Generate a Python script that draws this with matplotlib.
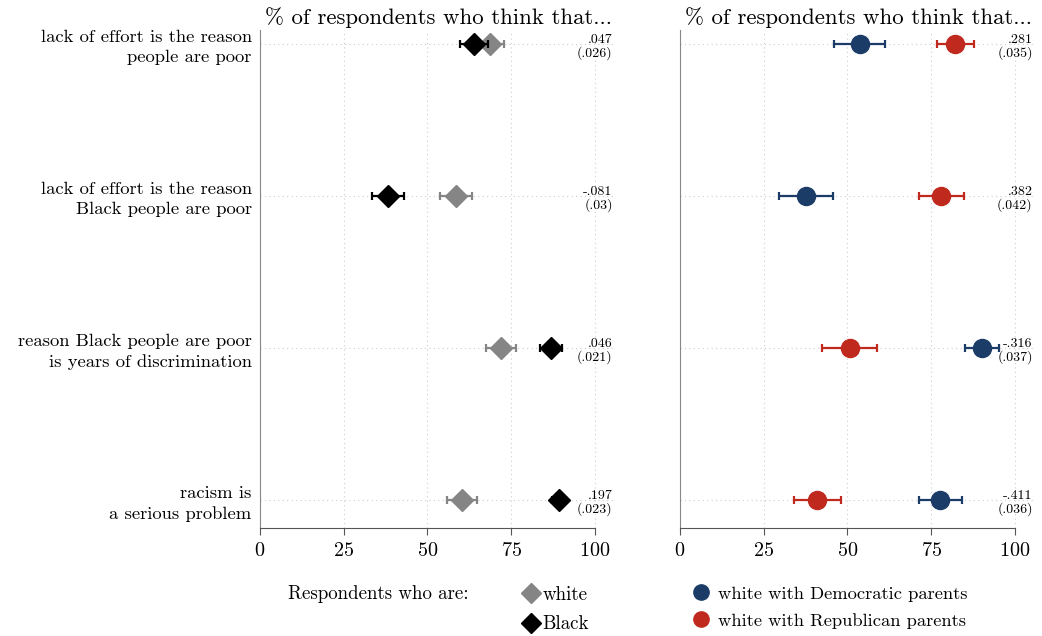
import matplotlib.pyplot as plt
from matplotlib.lines import Line2D

plt.rcParams["font.family"] = ["cmr10", "DejaVu Serif"]
plt.rcParams["axes.formatter.use_mathtext"] = True

questions = [
    "lack of effort is the reason\npeople are poor",
    "lack of effort is the reason\nBlack people are poor",
    "reason Black people are poor\nis years of discrimination",
    "racism is\na serious problem",
]

# left panel: white vs Black respondents (% agreeing, 95% CI half-width)
white_mean = [68.7, 58.5, 71.9, 60.3]
white_ci = [4.3, 4.7, 4.5, 4.5]
black_mean = [63.9, 38.2, 86.9, 89.3]
black_ci = [4.3, 4.8, 3.3, 2.2]
left_coef = [".047", "-.081", ".046", ".197"]
left_se = ["(.026)", "(.03)", "(.021)", "(.023)"]

# right panel: white respondents by parents' party
dem_mean = [53.7, 37.7, 90.2, 77.7]
dem_ci = [7.6, 8.1, 5.0, 6.4]
rep_mean = [82.2, 78.0, 50.7, 41.0]
rep_ci = [5.5, 6.7, 8.2, 7.1]
right_coef = [".281", ".382", "-.316", "-.411"]
right_se = ["(.035)", "(.042)", "(.037)", "(.036)"]

gray = "#858585"
navy = "#1b3c66"
red = "#c0291d"

fig = plt.figure(figsize=(10.42, 6.36), dpi=100)
W, H = 1042, 636
ax1 = fig.add_axes([260 / W, 1 - 528 / H, 355 / W, 498 / H])
ax2 = fig.add_axes([680 / W, 1 - 528 / H, 355 / W, 498 / H])

rows = list(range(len(questions)))


def style_panel(ax):
    ax.set_xlim(0, 106)
    ax.set_ylim(3.184, -0.092)
    ax.set_xticks([0, 25, 50, 75, 100])
    ax.set_yticks(rows)
    for s in ["top", "right"]:
        ax.spines[s].set_visible(False)
    ax.spines["bottom"].set_bounds(0, 100)
    ax.spines["bottom"].set_color("#555555")
    ax.spines["left"].set_color("#888888")
    ax.spines["left"].set_linewidth(0.8)
    ax.tick_params(axis="x", length=5, color="#555555", labelsize=14.5, pad=5)
    ax.tick_params(axis="y", length=0)
    for x in [0, 25, 50, 75, 100]:
        ax.axvline(x, color="#cccccc", lw=0.8, ls=(0, (1, 3)), zorder=0)
    for r in rows:
        ax.axhline(r, color="#cccccc", lw=0.8, ls=(0, (1, 3)), zorder=0)
    ax.set_title("% of respondents who think that...", loc="left", fontsize=16.4,
                 pad=4, x=0.015)


def annotate(ax, coefs, ses):
    for r, c, s in zip(rows, coefs, ses):
        ax.text(105.3, r - 0.025, c, ha="right", va="center", fontsize=10)
        ax.text(105.3, r + 0.06, s, ha="right", va="center", fontsize=10)


style_panel(ax1)
ax1.set_yticklabels(questions, fontsize=13.4, linespacing=1.35)
ax1.tick_params(axis="y", pad=6)
ax1.errorbar(white_mean, rows, xerr=white_ci, fmt="D", color=gray, ms=11,
             capsize=3, elinewidth=1.6, capthick=1.6, zorder=3)
ax1.errorbar(black_mean, rows, xerr=black_ci, fmt="D", color="black", ms=11,
             capsize=3, elinewidth=1.6, capthick=1.6, zorder=4)
annotate(ax1, left_coef, left_se)

style_panel(ax2)
ax2.set_yticklabels([])
ax2.errorbar(dem_mean, rows, xerr=dem_ci, fmt="o", color=navy, ms=13,
             capsize=3, elinewidth=1.6, capthick=1.6, zorder=3)
ax2.errorbar(rep_mean, rows, xerr=rep_ci, fmt="o", color=red, ms=13,
             capsize=3, elinewidth=1.6, capthick=1.6, zorder=3)
annotate(ax2, right_coef, right_se)

# legends below the panels
fig.text(288 / W, 1 - 594 / H, "Respondents who are:", fontsize=13.6, va="center")
h_left = [Line2D([], [], marker="D", color=gray, ls="none", ms=10),
          Line2D([], [], marker="D", color="black", ls="none", ms=10)]
fig.legend(h_left, ["white", "Black"], loc="upper left",
           bbox_to_anchor=(505 / W, 1 - 569 / H), frameon=False, fontsize=13.6,
           handlelength=1.0, handletextpad=0.1, labelspacing=0.6)
h_right = [Line2D([], [], marker="o", color=navy, ls="none", ms=11),
           Line2D([], [], marker="o", color=red, ls="none", ms=11)]
fig.legend(h_right, ["white with Democratic parents", "white with Republican parents"],
           loc="upper left", bbox_to_anchor=(675 / W, 1 - 569 / H), frameon=False,
           fontsize=13.3, handlelength=1.0, handletextpad=0.45, labelspacing=0.62)

fig.savefig("out.png", dpi=100, facecolor="white")
